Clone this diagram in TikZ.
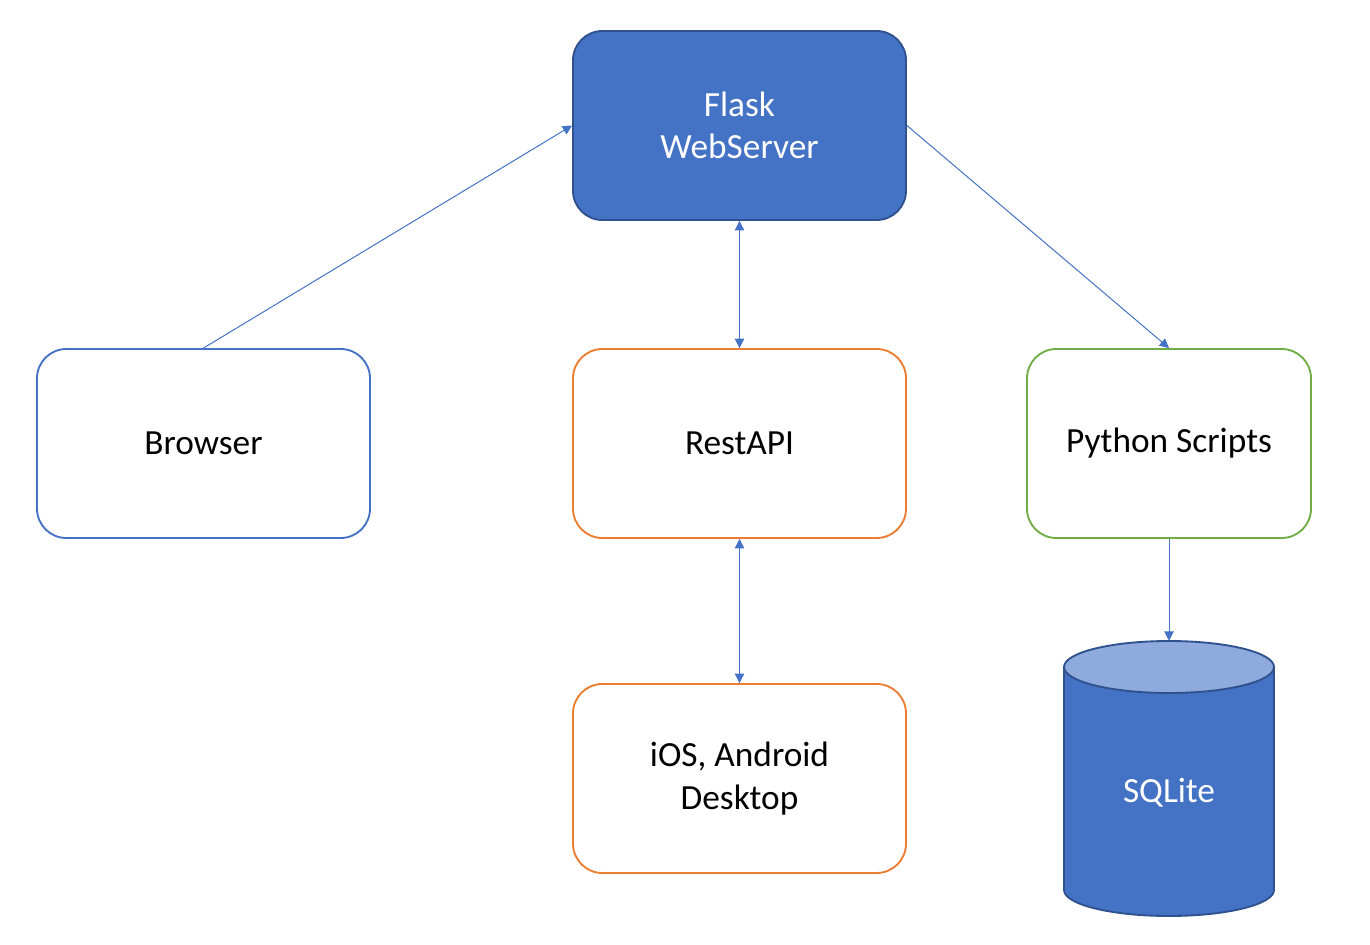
\documentclass[tikz,border=0pt]{standalone}
\usepackage{fontspec}
\setmainfont{Carlito}
\usetikzlibrary{arrows.meta}
\definecolor{accblue}{HTML}{4472C4}
\definecolor{darkblue}{HTML}{2F528F}
\definecolor{accorange}{HTML}{ED7D31}
\definecolor{accgreen}{HTML}{70AD47}
\definecolor{lightblue}{HTML}{8FAADC}
\begin{document}
\begin{tikzpicture}[x=0.75pt,y=-0.75pt,
  box/.style={draw, line width=1.4pt, rounded corners=22pt, fill=white, inner sep=0pt,
    align=center, font=\fontsize{26.5}{32}\selectfont},
  conn/.style={draw=accblue, line width=0.75pt},
]
\useasboundingbox (0,0) rectangle (1370,945);
% boxes
\node[box, draw=darkblue, fill=accblue, text=white, minimum width=333*0.75pt, minimum height=189*0.75pt] (flask) at (739.5,125.5) {Flask\\WebServer};
\node[box, draw=accblue, minimum width=333*0.75pt, minimum height=189*0.75pt] (browser) at (203.5,443.5) {Browser};
\node[box, draw=accorange, minimum width=333*0.75pt, minimum height=189*0.75pt] (rest) at (739.5,443.5) {RestAPI};
\node[box, draw=accgreen, minimum width=284*0.75pt, minimum height=189*0.75pt] (py) at (1169,443.5) {Python Scripts};
\node[box, draw=accorange, minimum width=333*0.75pt, minimum height=189*0.75pt] (ios) at (739.5,778.5) {iOS, Android\\Desktop};
% cylinder
\fill[accblue] (1064,667) -- (1064,890) arc[start angle=180, end angle=360, x radius=105, y radius=-26] -- (1274,667) -- cycle;
\draw[darkblue, line width=1.4pt] (1064,667) -- (1064,890) arc[start angle=180, end angle=360, x radius=105, y radius=-26] -- (1274,667);
\draw[darkblue, line width=1.4pt, fill=lightblue] (1169,667) ellipse[x radius=105, y radius=26];
\node[inner sep=0pt, minimum width=210*0.75pt, minimum height=275*0.75pt] (sql) at (1169,778.5) {};
\node[text=white, font=\fontsize{26.5}{32}\selectfont] (sqltext) at (1169,793) {SQLite};
% connectors
\draw[conn, -{Triangle[length=7pt,width=7pt]}] (browser.north) -- (flask.west);
\draw[conn, -{Triangle[length=7pt,width=7pt]}] (flask.east) -- (py.north);
\draw[conn, {Triangle[length=7pt,width=7pt]}-{Triangle[length=7pt,width=7pt]}] (flask.south) -- (rest.north);
\draw[conn, {Triangle[length=7pt,width=7pt]}-{Triangle[length=7pt,width=7pt]}] (rest.south) -- (ios.north);
\draw[conn, -{Triangle[length=7pt,width=7pt]}] (py.south) -- (sql.north);
\end{tikzpicture}
\end{document}
